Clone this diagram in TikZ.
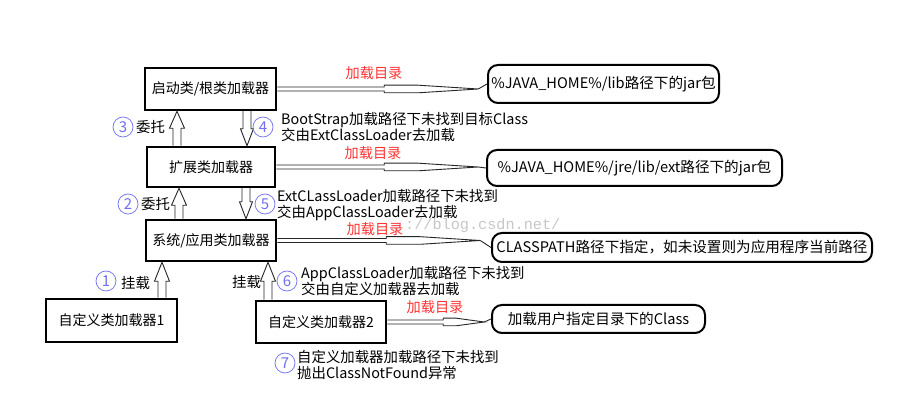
\documentclass[tikz,border=0pt]{standalone}
\usepackage{fontspec}
\setmainfont{Noto Sans CJK SC}
\newfontfamily\wmfont{Liberation Mono}
\usetikzlibrary{calc}
\definecolor{cred}{HTML}{FF3333}
\definecolor{cblue}{HTML}{7070F0}
\newcommand\hconn[6]{%
  \draw[conn] (#1.east) ++(0,-2) -- ++(#3,0) -- ++(0,-1.8) -- ++(#4,0) -- ++(#5,3.8) coordinate (#6)
    -- ++(-#5,3.8) -- ++(-#4,0) -- ++(0,-1.8) -- ++(-#3,0);
  \draw[conn] (#6) -- (#2.west);
}
\newcommand\uparr[4]{%
  \draw[conn] let \p1=(#2.north), \p2=(#3.south) in
    ({(#1-4)*1pt},\y1) -- ({(#1-4)*1pt},{\y2-#4*1pt}) -- ({(#1-7.5)*1pt},{\y2-#4*1pt}) -- ({#1*1pt},\y2)
    -- ({(#1+7.5)*1pt},{\y2-#4*1pt}) -- ({(#1+4)*1pt},{\y2-#4*1pt}) -- ({(#1+4)*1pt},\y1);
}
\newcommand\downarr[4]{%
  \draw[conn] let \p1=(#2.south), \p2=(#3.north) in
    ({(#1-4)*1pt},\y1) -- ({(#1-4)*1pt},{\y2+#4*1pt}) -- ({(#1-6.5)*1pt},{\y2+#4*1pt}) -- ({#1*1pt},\y2)
    -- ({(#1+6.5)*1pt},{\y2+#4*1pt}) -- ({(#1+4)*1pt},{\y2+#4*1pt}) -- ({(#1+4)*1pt},\y1);
}
\begin{document}
\begin{tikzpicture}[x=1pt,y=-1pt,
  box/.style={draw, line width=2.5pt, inner sep=0pt, font=\fontsize{14}{16}\selectfont},
  rbox/.style={draw, line width=2pt, rounded corners=10pt, inner sep=0pt, font=\fontsize{14.6}{16}\selectfont},
  conn/.style={draw=black!85, line width=0.9pt, line join=miter},
  circ/.style={circle, draw=cblue, line width=0.7pt, text=cblue, minimum size=20pt, inner sep=0pt, font=\fontsize{15}{15}\selectfont},
  lbl/.style={font=\fontsize{14.4}{16}\selectfont, anchor=west, inner sep=0pt, align=left},
  rlbl/.style={font=\fontsize{14.2}{16}\selectfont, text=cred, inner sep=0pt},
  wm/.style={font=\wmfont\fontsize{15.2}{15}\selectfont, text=black!22, anchor=west, inner sep=0pt}]
\fill[white] (0,0) rectangle (903,411);
\useasboundingbox (0,0) rectangle (903,411);

% watermark
\node[wm] (wm) at (405,226) {://blog.csdn.net/};

% loader boxes
\node[box, minimum width=131, minimum height=42] (b1) at (210.5,89) {启动类/根类加载器};
\node[box, minimum width=128, minimum height=40] (b2) at (211,167) {扩展类加载器};
\node[box, minimum width=130, minimum height=41] (b3) at (211,240.5) {系统/应用类加载器};
\node[box, minimum width=131, minimum height=43] (c1) at (111.5,320.5) {自定义类加载器1};
\node[box, minimum width=130, minimum height=42] (c2) at (321,322) {自定义类加载器2};

% path boxes
\node[rbox, minimum width=231, minimum height=38] (r1) at (603.5,84) {\%JAVA\_HOME\%/lib路径下的jar包};
\node[rbox, minimum width=295, minimum height=36] (r2) at (634.5,168) {\%JAVA\_HOME\%/jre/lib/ext路径下的jar包};
\node[rbox, minimum width=380, minimum height=29] (r3) at (682,247.5) {CLASSPATH路径下指定，如未设置则为应用程序当前路径};
\node[rbox, minimum width=213, minimum height=28] (r4) at (598.5,319) {加载用户指定目录下的Class};

% horizontal connectors
\hconn{b1}{r1}{107}{34}{60}{t1}
\hconn{b2}{r2}{108}{34}{60}{t2}
\hconn{b3}{r3}{109}{34}{60}{t3}
\hconn{c2}{r4}{56}{13}{28}{t4}

\node[rlbl] (l1) at (374,73) {加载目录};
\node[rlbl] (l2) at (373,153) {加载目录};
\node[rlbl] (l3) at (375,229) {加载目录};
\node[rlbl] (l4) at (435,307) {加载目录};

% vertical arrows
\uparr{177}{b2}{b1}{17}
\downarr{247}{b1}{b2}{17}
\uparr{179}{b3}{b2}{17}
\downarr{246}{b2}{b3}{17}
\uparr{162}{c1}{b3}{19}
\uparr{268}{c2}{b3}{19}

% numbered annotations
\node[circ] (n3) at (123,127) {3};
\node[lbl] (d3) at (136,127) {委托};
\node[circ] (n4) at (263,127) {4};
\node[lbl] (d4) at (281,127.5) {BootStrap加载路径下未找到目标Class\\交由ExtClassLoader去加载};

\node[circ] (n2) at (128,204) {2};
\node[lbl] (d2) at (141,204) {委托};
\node[circ] (n5) at (265,204) {5};
\node[lbl] (d5) at (277,205) {ExtCLassLoader加载路径下未找到\\交由AppClassLoader去加载};

\node[circ] (n1) at (106,281) {1};
\node[lbl] (d1) at (121,283) {挂载};
\node[lbl] (d1b) at (232,282) {挂载};
\node[circ] (n6) at (287,281) {6};
\node[lbl] (d6) at (301,281) {AppClassLoader加载路径下未找到\\交由自定义加载器去加载};

\node[circ] (n7) at (285,363) {7};
\node[lbl] (d7) at (297,365.5) {自定义加载器加载路径下未找到\\抛出ClassNotFound异常};
\end{tikzpicture}
\end{document}
